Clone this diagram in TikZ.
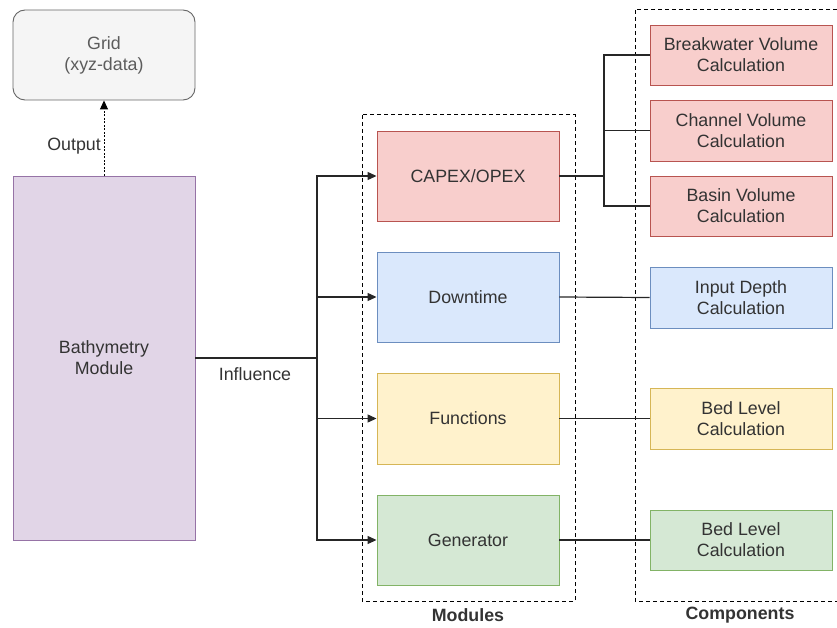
\documentclass[tikz,border=0pt]{standalone}
\usepackage{fontspec}
\setmainfont{Liberation Sans}
\usetikzlibrary{arrows.meta}
\definecolor{redf}{HTML}{F8CECC}\definecolor{redd}{HTML}{B85450}
\definecolor{bluef}{HTML}{DAE8FC}\definecolor{blued}{HTML}{6C8EBF}
\definecolor{yelf}{HTML}{FFF2CC}\definecolor{yeld}{HTML}{D6B656}
\definecolor{grnf}{HTML}{D5E8D4}\definecolor{grnd}{HTML}{82B366}
\definecolor{purf}{HTML}{E1D5E7}\definecolor{purd}{HTML}{9673A6}
\definecolor{grayf}{HTML}{F5F5F5}\definecolor{grayd}{HTML}{666666}
\definecolor{txt}{HTML}{333333}
\begin{document}
\begin{tikzpicture}[x=1pt,y=-1pt,
  box/.style={draw,line width=0.9pt,inner sep=0pt,align=center,text=txt,
    font=\fontsize{17.8}{21}\selectfont},
  lbl/.style={text=txt,font=\fontsize{17.8}{21}\selectfont,inner sep=0pt},
  conn/.style={line width=1.2pt,draw=black!85},
  arr/.style={conn,-{Triangle[length=9pt,width=8pt]}},
  grp/.style={line width=1pt,dash pattern=on 4pt off 3pt}]
\useasboundingbox (0,0) rectangle (837,628);
\clip (0,0) rectangle (837,628);
% left
\node[box,fill=grayf,draw=grayd,rounded corners=12pt,minimum width=182pt,minimum height=90pt,text=grayd!90!black] (grid) at (104,55) {Grid\\(xyz-data)};
\node[box,fill=purf,draw=purd,minimum width=182pt,minimum height=364pt] (bath) at (104,358) {Bathymetry\\Module};
\draw[line width=1pt,dash pattern=on 2pt off 1.5pt,-{Triangle[length=9pt,width=8pt]}] (bath.north) -- (grid.south);
\node[lbl,anchor=east] (outl) at (101,146) {Output};
% modules group
\draw[grp] (362,115) rectangle (575,601);
\node[lbl,font=\fontsize{17.8}{21}\selectfont\bfseries] (modl) at (468,615) {Modules};
\node[box,fill=redf,draw=redd,minimum width=182pt,minimum height=90pt] (capex) at (468,176) {CAPEX/OPEX};
\node[box,fill=bluef,draw=blued,minimum width=182pt,minimum height=90pt] (down) at (468,297) {Downtime};
\node[box,fill=yelf,draw=yeld,minimum width=182pt,minimum height=91pt] (func) at (468,418.5) {Functions};
\node[box,fill=grnf,draw=grnd,minimum width=182pt,minimum height=90pt] (gen) at (468,540) {Generator};
% components group
\draw[grp] (635,10) rectangle (845,601);
\node[lbl,font=\fontsize{17.8}{21}\selectfont\bfseries] (compl) at (740,615) {Components};
\node[box,fill=redf,draw=redd,minimum width=182pt,minimum height=60pt] (brk) at (741,55) {Breakwater Volume\\Calculation};
\node[box,fill=redf,draw=redd,minimum width=182pt,minimum height=61pt] (chn) at (741,130.5) {Channel Volume\\Calculation};
\node[box,fill=redf,draw=redd,minimum width=182pt,minimum height=60pt] (bas) at (741,206) {Basin Volume\\Calculation};
\node[box,fill=bluef,draw=blued,minimum width=182pt,minimum height=61pt] (inp) at (741,297.5) {Input Depth\\Calculation};
\node[box,fill=yelf,draw=yeld,minimum width=182pt,minimum height=61pt] (bed1) at (741,418.5) {Bed Level\\Calculation};
\node[box,fill=grnf,draw=grnd,minimum width=182pt,minimum height=60pt] (bed2) at (741,540) {Bed Level\\Calculation};
% influence
\coordinate (trunk) at (317,358);
\draw[conn] (bath.east |- trunk) -- (trunk);
\node[lbl] (infl) at (255,374) {Influence};
\draw[arr] (trunk) |- (capex.west);
\draw[arr] (trunk) |- (down.west);
\draw[arr] (trunk) |- (func.west);
\draw[arr] (trunk) |- (gen.west);
% capex to components
\coordinate (br) at (604,176);
\draw[conn] (capex.east) -- (br);
\draw[conn] (br) |- (brk.west);
\draw[conn] (br) |- (chn.west);
\draw[conn] (br) |- (bas.west);
\draw[conn] (down.east) -- (inp.west);
\draw[conn] (func.east) -- (bed1.west);
\draw[conn] (gen.east) -- (bed2.west);
\end{tikzpicture}
\end{document}
